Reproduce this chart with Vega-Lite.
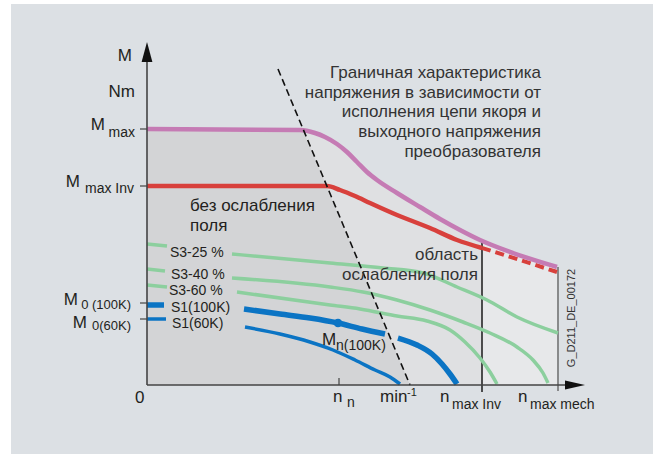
{
  "$schema": "https://vega.github.io/schema/vega-lite/v6.json",
  "width": 653,
  "height": 454,
  "padding": 0,
  "autosize": {"type": "none"},
  "background": "#ffffff",
  "config": {"view": {"stroke": null}, "text": {"font": "Liberation Sans", "color": "#231f20"}},
  "encoding": {
    "x": {"field": "n", "type": "quantitative", "scale": {"domain": [-147, 506], "nice": false, "zero": false}, "axis": null},
    "y": {"field": "M", "type": "quantitative", "scale": {"domain": [-69, 385], "nice": false, "zero": false}, "axis": null}
  },
  "layer": [
    {
      "data": {"values": [{"n": -136, "n2": 506, "M": 381, "M2": -69}]},
      "mark": {"type": "rect", "color": "#dce0e4"},
      "encoding": {"x2": {"field": "n2"}, "y2": {"field": "M2"}}
    },
    {
      "data": {"values": [
        {"n": 0, "M": 256}, {"n": 153, "M": 255}, {"n": 168, "M": 252}, {"n": 178, "M": 248}, {"n": 190, "M": 241},
        {"n": 200, "M": 233}, {"n": 210, "M": 223}, {"n": 220, "M": 213}, {"n": 230, "M": 205}, {"n": 250, "M": 192},
        {"n": 273, "M": 178}, {"n": 293, "M": 166}, {"n": 313, "M": 155}, {"n": 335, "M": 144}
      ]},
      "mark": {"type": "area", "interpolate": "monotone", "color": "#dfe0e2"},
      "encoding": {"y2": {"datum": 0}}
    },
    {
      "data": {"values": [{"n": 335, "M": 144}, {"n": 366, "M": 132}, {"n": 410, "M": 118}]},
      "mark": {"type": "area", "interpolate": "monotone", "color": "#e7e8ea"},
      "encoding": {"y2": {"datum": 0}}
    },
    {
      "data": {"values": [{"n": 0, "M": 256}, {"n": 156, "M": 255}, {"n": 263, "M": 0}]},
      "mark": {"type": "area", "color": "#d3d4d6"},
      "encoding": {"y2": {"datum": 0}}
    },
    {
      "data": {"values": [{"n": 335, "M": 144, "M2": -7}]},
      "mark": {"type": "rule", "color": "#1a1a1a", "strokeWidth": 1.5},
      "encoding": {"y2": {"field": "M2"}}
    },
    {
      "data": {"values": [{"n": 411, "M": 118, "M2": -6}]},
      "mark": {"type": "rule", "color": "#6e6e6e", "strokeWidth": 1.5},
      "encoding": {"y2": {"field": "M2"}}
    },
    {
      "data": {"values": [
        {"s": "a1", "n": 0, "M": 141}, {"s": "a1", "n": 20, "M": 139},
        {"s": "a2", "n": 85, "M": 131}, {"s": "a2", "n": 183, "M": 122}, {"s": "a2", "n": 236, "M": 117}, {"s": "a2", "n": 276, "M": 112},
        {"s": "a2", "n": 310, "M": 98}, {"s": "a2", "n": 340, "M": 85}, {"s": "a2", "n": 370, "M": 68}, {"s": "a2", "n": 411, "M": 52},
        {"s": "b1", "n": 0, "M": 116}, {"s": "b1", "n": 18, "M": 114},
        {"s": "b2", "n": 85, "M": 107}, {"s": "b2", "n": 183, "M": 98}, {"s": "b2", "n": 216, "M": 93}, {"s": "b2", "n": 250, "M": 85},
        {"s": "b2", "n": 283, "M": 75}, {"s": "b2", "n": 316, "M": 63}, {"s": "b2", "n": 343, "M": 52}, {"s": "b2", "n": 370, "M": 38},
        {"s": "b2", "n": 386, "M": 25}, {"s": "b2", "n": 396, "M": 12}, {"s": "b2", "n": 401, "M": 2},
        {"s": "c1", "n": 0, "M": 100}, {"s": "c1", "n": 20, "M": 98},
        {"s": "c2", "n": 90, "M": 93}, {"s": "c2", "n": 183, "M": 80}, {"s": "c2", "n": 213, "M": 76}, {"s": "c2", "n": 250, "M": 69},
        {"s": "c2", "n": 280, "M": 64}, {"s": "c2", "n": 303, "M": 55}, {"s": "c2", "n": 318, "M": 43}, {"s": "c2", "n": 333, "M": 27},
        {"s": "c2", "n": 343, "M": 13}, {"s": "c2", "n": 350, "M": 1}
      ]},
      "mark": {"type": "line", "interpolate": "monotone", "color": "#8ccf9e", "strokeWidth": 3.5},
      "encoding": {"detail": {"field": "s"}}
    },
    {
      "data": {"values": [
        {"s": "u1", "n": 0, "M": 66}, {"s": "u1", "n": 19, "M": 66},
        {"s": "u2", "n": 98, "M": 58}, {"s": "u2", "n": 133, "M": 51}, {"s": "u2", "n": 163, "M": 43}, {"s": "u2", "n": 186, "M": 35},
        {"s": "u2", "n": 208, "M": 25}, {"s": "u2", "n": 228, "M": 15}, {"s": "u2", "n": 243, "M": 8}, {"s": "u2", "n": 253, "M": 1}
      ]},
      "mark": {"type": "line", "interpolate": "monotone", "color": "#0b74c4", "strokeWidth": 3.5},
      "encoding": {"detail": {"field": "s"}}
    },
    {
      "data": {"values": [
        {"s": "t1", "n": 0, "M": 80}, {"s": "t1", "n": 17, "M": 80},
        {"s": "t2", "n": 97, "M": 76}, {"s": "t2", "n": 133, "M": 71}, {"s": "t2", "n": 163, "M": 67}, {"s": "t2", "n": 191, "M": 62},
        {"s": "t2", "n": 215, "M": 56}, {"s": "t2", "n": 238, "M": 51},
        {"s": "t3", "n": 251, "M": 47}, {"s": "t3", "n": 270, "M": 40}, {"s": "t3", "n": 285, "M": 31}, {"s": "t3", "n": 295, "M": 21},
        {"s": "t3", "n": 303, "M": 11}, {"s": "t3", "n": 310, "M": 1}
      ]},
      "mark": {"type": "line", "interpolate": "monotone", "color": "#0b74c4", "strokeWidth": 5.5},
      "encoding": {"detail": {"field": "s"}}
    },
    {
      "data": {"values": [
        {"n": 0, "M": 199}, {"n": 180, "M": 199}, {"n": 193, "M": 195}, {"n": 208, "M": 189}, {"n": 223, "M": 182},
        {"n": 250, "M": 170}, {"n": 283, "M": 157}, {"n": 310, "M": 145}, {"n": 335, "M": 137}
      ]},
      "mark": {"type": "line", "interpolate": "monotone", "color": "#d8403c", "strokeWidth": 4.5}
    },
    {
      "data": {"values": [{"n": 335, "M": 137}, {"n": 373, "M": 125}, {"n": 410, "M": 113}]},
      "mark": {"type": "line", "interpolate": "monotone", "color": "#d8403c", "strokeWidth": 4, "strokeDash": [9, 5]}
    },
    {
      "data": {"values": [
        {"n": 0, "M": 256}, {"n": 153, "M": 255}, {"n": 168, "M": 252}, {"n": 178, "M": 248}, {"n": 190, "M": 241},
        {"n": 200, "M": 233}, {"n": 210, "M": 223}, {"n": 220, "M": 213}, {"n": 230, "M": 205}, {"n": 250, "M": 192},
        {"n": 273, "M": 178}, {"n": 293, "M": 166}, {"n": 313, "M": 155}, {"n": 333, "M": 145}, {"n": 366, "M": 132}, {"n": 410, "M": 118}
      ]},
      "mark": {"type": "line", "interpolate": "monotone", "color": "#c57bb4", "strokeWidth": 4.5}
    },
    {
      "data": {"values": [{"n": 131, "n2": 263, "M": 316, "M2": 0}]},
      "mark": {"type": "rule", "color": "#111111", "strokeWidth": 1.6, "strokeDash": [7, 4]},
      "encoding": {"x2": {"field": "n2"}, "y2": {"field": "M2"}}
    },
    {
      "data": {"values": [
        {"n": 0, "n2": 425, "M": 0, "M2": 0},
        {"n": 0, "n2": 0, "M": 0, "M2": 330}
      ]},
      "mark": {"type": "rule", "color": "#444444", "strokeWidth": 1.6},
      "encoding": {"x2": {"field": "n2"}, "y2": {"field": "M2"}}
    },
    {
      "data": {"values": [
        {"n": -7, "n2": 0, "M": 256, "M2": 256},
        {"n": -7, "n2": 0, "M": 199, "M2": 199},
        {"n": -7, "n2": 0, "M": 82, "M2": 82},
        {"n": -7, "n2": 0, "M": 66, "M2": 66},
        {"n": 192, "n2": 192, "M": 0, "M2": 7}
      ]},
      "mark": {"type": "rule", "color": "#444444", "strokeWidth": 1.2},
      "encoding": {"x2": {"field": "n2"}, "y2": {"field": "M2"}}
    },
    {
      "data": {"values": [{"n": 438, "M": 0}]},
      "mark": {"type": "point", "shape": "M-1,-0.22L0,0L-1,0.22Z", "size": 1600, "filled": true, "color": "#111111", "opacity": 1, "strokeWidth": 0}
    },
    {
      "data": {"values": [{"n": 0, "M": 343}]},
      "mark": {"type": "point", "shape": "M-0.27,1L0,0L0.27,1Z", "size": 1600, "filled": true, "color": "#111111", "opacity": 1, "strokeWidth": 0}
    },
    {
      "data": {"values": [{"n": 191, "M": 62}]},
      "mark": {"type": "point", "size": 75, "filled": true, "color": "#0b74c4", "opacity": 1}
    },
    {
      "data": {"values": [
        {"n": -15, "M": 324, "t": "M"},
        {"n": -12, "M": 288, "t": "Nm"},
        {"n": -42, "M": 255, "t": "M"},
        {"n": -67, "M": 198, "t": "M"},
        {"n": -69, "M": 80, "t": "M"},
        {"n": -60, "M": 57, "t": "M"}
      ]},
      "mark": {"type": "text", "fontSize": 17, "align": "right", "baseline": "alphabetic"},
      "encoding": {"text": {"field": "t"}}
    },
    {
      "data": {"values": [
        {"n": -12, "M": 248, "t": "max"},
        {"n": -13, "M": 192, "t": "max Inv"}
      ]},
      "mark": {"type": "text", "fontSize": 14, "align": "right", "baseline": "alphabetic"},
      "encoding": {"text": {"field": "t"}}
    },
    {
      "data": {"values": [
        {"n": -16, "M": 76, "t": "0 (100K)"},
        {"n": -16, "M": 55, "t": "0(60K)"}
      ]},
      "mark": {"type": "text", "fontSize": 13, "align": "right", "baseline": "alphabetic"},
      "encoding": {"text": {"field": "t"}}
    },
    {
      "data": {"values": [
        {"n": -12, "M": -18, "t": "0"},
        {"n": 186, "M": -17, "t": "n"},
        {"n": 233, "M": -17, "t": "min"},
        {"n": 293, "M": -17, "t": "n"},
        {"n": 371, "M": -17, "t": "n"},
        {"n": 175, "M": 40, "t": "M"},
        {"n": 43, "M": 174, "t": "без ослабления"},
        {"n": 43, "M": 154, "t": "поля"}
      ]},
      "mark": {"type": "text", "fontSize": 17, "align": "left", "baseline": "alphabetic"},
      "encoding": {"text": {"field": "t"}}
    },
    {
      "data": {"values": [
        {"n": 200, "M": -22, "t": "n"},
        {"n": 305, "M": -24, "t": "max Inv"},
        {"n": 383, "M": -24, "t": "max mech"},
        {"n": 189, "M": 35, "t": "n(100K)"},
        {"n": 23, "M": 128, "t": "S3-25 %"},
        {"n": 24, "M": 106, "t": "S3-40 %"},
        {"n": 22, "M": 90, "t": "S3-60 %"},
        {"n": 24, "M": 73, "t": "S1(100K)"},
        {"n": 25, "M": 57, "t": "S1(60K)"}
      ]},
      "mark": {"type": "text", "fontSize": 14, "align": "left", "baseline": "alphabetic"},
      "encoding": {"text": {"field": "t"}}
    },
    {
      "data": {"values": [{"n": 260, "M": -11, "t": "-1"}]},
      "mark": {"type": "text", "fontSize": 11, "align": "left", "baseline": "alphabetic"},
      "encoding": {"text": {"field": "t"}}
    },
    {
      "data": {"values": [
        {"n": 394, "M": 307, "t": "Граничная характеристика"},
        {"n": 394, "M": 287, "t": "напряжения в зависимости от"},
        {"n": 394, "M": 268, "t": "исполнения цепи якоря и"},
        {"n": 394, "M": 248, "t": "выходного напряжения"},
        {"n": 394, "M": 228, "t": "преобразователя"},
        {"n": 331, "M": 125, "t": "область"},
        {"n": 331, "M": 105, "t": "ослабления поля"}
      ]},
      "mark": {"type": "text", "fontSize": 17, "align": "right", "baseline": "alphabetic", "color": "#333333"},
      "encoding": {"text": {"field": "t"}}
    },
    {
      "data": {"values": [{"n": 425, "M": 67, "t": "G_D211_DE_00172"}]},
      "mark": {"type": "text", "fontSize": 11, "angle": 270, "align": "center", "baseline": "middle", "color": "#333333"},
      "encoding": {"text": {"field": "t"}}
    }
  ]
}
